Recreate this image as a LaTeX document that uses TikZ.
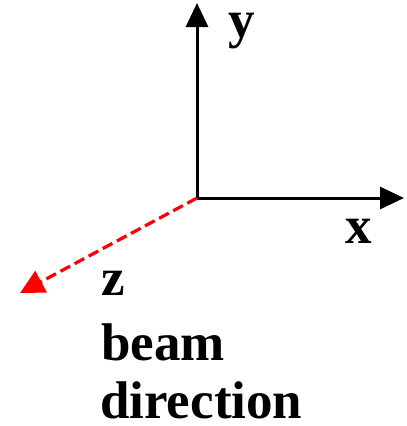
\documentclass[tikz,border=0pt]{standalone}
\usepackage{fontspec}
\setmainfont{Liberation Serif}
\usetikzlibrary{arrows.meta}

\begin{document}
\begin{tikzpicture}[
  x=1pt,y=-1pt,
  axis/.style={line width=3pt,-{Triangle[length=24pt,width=22pt]}},
  beamaxis/.style={red,line width=3.2pt,dash pattern=on 11pt off 5pt,-{Triangle[length=24pt,width=24pt]}},
  lbl/.style={font=\bfseries\fontsize{53}{60}\selectfont,inner sep=0pt,anchor=base west}
]
  \useasboundingbox (0,0) rectangle (407,426);
  \coordinate (O) at (197,198);
  \coordinate (Xtip) at (404,198);
  \coordinate (Ytip) at (197,3);
  \coordinate (Ztip) at (20,293);

  \draw[axis] (O) -- (Xtip);
  \draw[axis] (O) -- (Ytip);
  \draw[beamaxis] (O) -- (Ztip);

  \node[lbl] (ylbl) at (228,37) {y};
  \node[lbl] (xlbl) at (345,243) {x};
  \node[lbl] (zlbl) at (101,295) {z};
  \node[lbl] (beamlbl) at (101,360) {beam};
  \node[lbl] (dirlbl) at (100,418) {direction};
\end{tikzpicture}
\end{document}
